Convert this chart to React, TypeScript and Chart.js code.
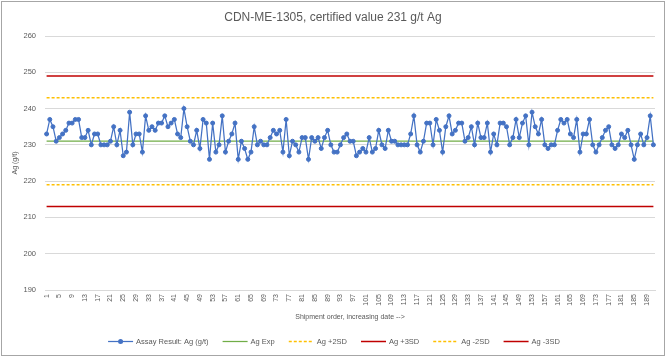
import React, { useEffect, useRef } from 'react';
import { Chart, registerables } from 'chart.js';

Chart.register(...registerables);

const FONT = "'Liberation Sans', Arial, sans-serif";
const TEXT = '#595959';

const TITLE = 'CDN-ME-1305, certified value 231 g/t Ag';
const X_TITLE = 'Shipment order, increasing date -->';
const Y_TITLE = 'Ag (g/t)';

// Assay results, in shipment order
const assay = [
  233, 237, 235, 231, 232, 233, 234, 236, 236, 237,
  237, 232, 232, 234, 230, 233, 233, 230, 230, 230,
  231, 235, 230, 234, 227, 228, 239, 230, 233, 233,
  228, 238, 234, 235, 234, 236, 236, 238, 235, 236,
  237, 233, 232, 240, 235, 231, 230, 234, 229, 237,
  236, 226, 236, 228, 230, 238, 228, 231, 233, 236,
  226, 231, 229, 226, 228, 235, 230, 231, 230, 230,
  232, 234, 233, 234, 228, 237, 227, 231, 230, 228,
  232, 232, 226, 232, 231, 232, 229, 232, 234, 230,
  228, 228, 230, 232, 233, 231, 231, 227, 228, 229,
  228, 232, 228, 229, 234, 230, 229, 234, 231, 231,
  230, 230, 230, 230, 233, 238, 230, 228, 231, 236,
  236, 230, 237, 234, 228, 235, 238, 233, 234, 236,
  236, 231, 232, 235, 230, 236, 232, 232, 236, 228,
  233, 230, 236, 236, 235, 230, 232, 237, 232, 236,
  238, 230, 239, 235, 233, 237, 230, 229, 230, 230,
  234, 237, 236, 237, 233, 232, 237, 228, 233, 233,
  237, 230, 228, 230, 232, 234, 235, 230, 229, 230,
  233, 232, 234, 230, 226, 230, 233, 230, 232, 238,
  230,
];

const shipments = assay.map((_, i) => String(i + 1));

const AG_EXP = 231;
const AG_PLUS_2SD = 243;
const AG_PLUS_3SD = 249;
const AG_MINUS_2SD = 219;
const AG_MINUS_3SD = 213;

const Y_MIN = 190;
const Y_MAX = 260;
const Y_STEP = 10;
const X_LABEL_EVERY = 4;

const W = 667;
const H = 358;

const constLine = (v: number) => shipments.map(() => v);

const decorPlugin = {
  id: 'decor',
  beforeDraw(chart: any) {
    const ctx = chart.ctx;
    ctx.save();
    ctx.fillStyle = '#ffffff';
    ctx.fillRect(0, 0, chart.width, chart.height);
    ctx.restore();
  },
  afterDraw(chart: any) {
    const ctx = chart.ctx;
    ctx.save();
    // outer border
    ctx.strokeStyle = '#a6a6a6';
    ctx.lineWidth = 1;
    ctx.strokeRect(1.5, 1.5, W - 4, H - 4);

    // title
    ctx.fillStyle = TEXT;
    ctx.font = `12px ${FONT}`;
    ctx.textAlign = 'center';
    ctx.textBaseline = 'middle';
    const ca = chart.chartArea;
    ctx.fillText(TITLE, 333, 17.5);

    // legend
    ctx.font = `7.5px ${FONT}`;
    const sample = 25;
    const gapText = 3;
    const gapItem = 14;
    const ds = chart.data.datasets;
    const widths = ds.map((d: any) => sample + gapText + ctx.measureText(d.label).width);
    const total = widths.reduce((a: number, b: number) => a + b, 0) + gapItem * (ds.length - 1);
    let x = 334 - total / 2;
    const y = 341.5;
    ds.forEach((d: any, i: number) => {
      ctx.save();
      ctx.strokeStyle = d.borderColor;
      ctx.lineWidth = d.borderWidth;
      ctx.setLineDash(d.borderDash || []);
      ctx.beginPath();
      ctx.moveTo(x, y);
      ctx.lineTo(x + sample, y);
      ctx.stroke();
      if (d.pointRadius > 0) {
        ctx.setLineDash([]);
        ctx.fillStyle = d.pointBackgroundColor;
        ctx.beginPath();
        ctx.arc(x + sample / 2, y, 2.5, 0, Math.PI * 2);
        ctx.fill();
      }
      ctx.restore();
      ctx.fillStyle = TEXT;
      ctx.textAlign = 'left';
      ctx.textBaseline = 'middle';
      ctx.fillText(d.label, x + sample + gapText, y);
      x += widths[i] + gapItem;
    });
    ctx.restore();
  },
};

export default function App() {
  const ref = useRef<HTMLCanvasElement | null>(null);

  useEffect(() => {
    if (!ref.current) return;
    const chart = new Chart(ref.current, {
      type: 'line',
      data: {
        labels: shipments,
        datasets: [
          {
            label: 'Assay Result: Ag (g/t)',
            data: assay,
            borderColor: '#4472C4',
            backgroundColor: '#4472C4',
            borderWidth: 1.25,
            pointRadius: 2,
            pointBorderWidth: 1,
            pointBackgroundColor: '#4472C4',
            pointBorderColor: '#4472C4',
            tension: 0,
          },
          {
            label: 'Ag Exp',
            data: constLine(AG_EXP),
            borderColor: '#70AD47',
            borderWidth: 1.25,
            pointRadius: 0,
          },
          {
            label: 'Ag +2SD',
            data: constLine(AG_PLUS_2SD),
            borderColor: '#FFC000',
            borderWidth: 1.5,
            borderDash: [3, 2],
            pointRadius: 0,
          },
          {
            label: 'Ag +3SD',
            data: constLine(AG_PLUS_3SD),
            borderColor: '#C00000',
            borderWidth: 1.5,
            pointRadius: 0,
          },
          {
            label: 'Ag -2SD',
            data: constLine(AG_MINUS_2SD),
            borderColor: '#FFC000',
            borderWidth: 1.5,
            borderDash: [3, 2],
            pointRadius: 0,
          },
          {
            label: 'Ag -3SD',
            data: constLine(AG_MINUS_3SD),
            borderColor: '#C00000',
            borderWidth: 1.5,
            pointRadius: 0,
          },
        ],
      },
      options: {
        responsive: false,
        animation: false,
        devicePixelRatio: 1,
        layout: { padding: { top: 36, right: 12, bottom: 0, left: 0 } },
        plugins: {
          legend: { display: false },
          title: { display: false },
          tooltip: { enabled: false },
        },
        scales: {
          x: {
            type: 'category',
            offset: true,
            grid: { display: false, drawTicks: false },
            border: { display: true, color: '#d9d9d9' },
            ticks: {
              autoSkip: false,
              minRotation: 90,
              maxRotation: 90,
              padding: 4,
              color: TEXT,
              font: { family: FONT, size: 7 },
              callback: (_v: any, i: number) => (i % X_LABEL_EVERY === 0 ? shipments[i] : ''),
            },
            title: {
              display: true,
              text: X_TITLE,
              color: TEXT,
              font: { family: FONT, size: 7 },
              padding: { top: 0, bottom: 37 },
            },
            afterFit: (s: any) => {
              s.height = H - 290;
            },
          },
          y: {
            min: Y_MIN,
            max: Y_MAX,
            grid: { color: '#d9d9d9', drawTicks: false },
            border: { display: false },
            ticks: {
              stepSize: Y_STEP,
              padding: 9,
              color: TEXT,
              font: { family: FONT, size: 7.5 },
            },
            title: {
              display: true,
              text: Y_TITLE,
              color: TEXT,
              font: { family: FONT, size: 7 },
              padding: { top: 11, bottom: 0 },
            },
            afterFit: (s: any) => {
              s.width = 45;
            },
          },
        },
      },
      plugins: [decorPlugin],
    });
    return () => chart.destroy();
  }, []);

  return (
    <div style={{ position: 'fixed', left: 0, top: 0, width: W, height: H, background: '#fff' }}>
      <canvas ref={ref} width={W} height={H} style={{ width: W, height: H, display: 'block' }} />
    </div>
  );
}
